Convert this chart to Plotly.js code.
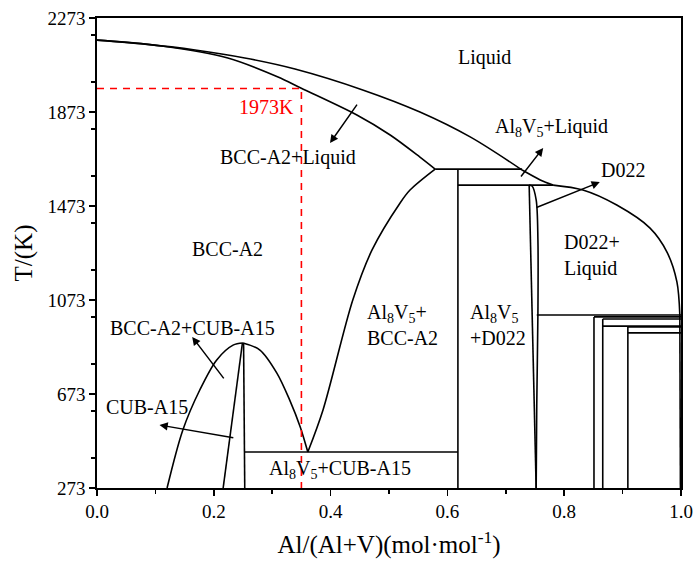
<!DOCTYPE html>
<html>
<head>
<meta charset="utf-8">
<script src="https://cdn.plot.ly/plotly-3.0.1.min.js"></script>
<style>html,body{margin:0;padding:0;background:#fff;}</style>
</head>
<body>
<div id="chart" style="width:695px;height:567px;"></div>
<script>
// ---- Data (x = Al/(Al+V) mole fraction, T in K) ----
const bccLiquidusX = [0, 0.082, 0.168, 0.253, 0.339, 0.455, 0.553, 0.639, 0.728];
const bccLiquidusT = [2179, 2162, 2137, 2103, 2056, 1967, 1873, 1767, 1626];
const al8v5LiquidusX = [0.728, 0.759, 0.781];
const al8v5LiquidusT = [1626, 1584, 1562];
const d022LiquidusX = [0.781, 0.832, 0.890, 0.947, 0.976, 0.993, 0.998];
const d022LiquidusT = [1562, 1541, 1477, 1379, 1277, 1150, 1009];
const alEdgeX = [0.998, 0.999];
const alEdgeT = [1009, 273];
const bccSolidusX = [0, 0.111, 0.224, 0.310, 0.349, 0.445, 0.502, 0.553, 0.579];
const bccSolidusT = [2179, 2154, 2103, 2022, 1975, 1860, 1775, 1681, 1630];
const bccAl8V5X = [0.361, 0.387, 0.438, 0.471, 0.519, 0.536, 0.579];
const bccAl8V5T = [426, 605, 1073, 1286, 1486, 1541, 1630];
const al8v5PeriX = [0.579, 0.728];
const al8v5PeriT = [1630, 1630];
const al8v5LineX = [0.618, 0.618];
const al8v5LineT = [1630, 273];
const d022PeriX = [0.618, 0.781];
const d022PeriT = [1562, 1562];
const d022LeftX = [0.740, 0.752];
const d022LeftT = [1562, 273];
const d022RightX = [0.740, 0.745, 0.752, 0.755, 0.755, 0.753, 0.752];
const d022RightT = [1562, 1558, 1499, 1328, 1017, 622, 273];
const domeLeftX = [0.120, 0.147, 0.176, 0.205, 0.233, 0.250];
const domeLeftT = [273, 520, 690, 818, 881, 890];
const domeRightX = [0.250, 0.279, 0.308, 0.330, 0.348, 0.361];
const domeRightT = [890, 860, 762, 647, 533, 426];
const a15LeftX = [0.249, 0.216];
const a15LeftT = [890, 273];
const a15RightX = [0.251, 0.253];
const a15RightT = [890, 273];
const eutectoidX = [0.253, 0.618];
const eutectoidT = [426, 426];
// Al-rich side horizontals and verticals
const hLinesX0 = [0.753, 0.851, 0.866, 0.866, 0.909, 0.909];
const hLinesT = [1009, 1001, 992, 962, 958, 933];
const vLinesX = [0.851, 0.866, 0.909];
const vLinesTop = [1001, 992, 958];
// 1973 K reference
const refX = [0, 0.35, 0.35];
const refT = [1973, 1973, 273];

// Labels
const labelText = ['Liquid', 'BCC-A2+Liquid', 'Al<sub>8</sub>V<sub>5</sub>+Liquid', 'D022', 'BCC-A2',
  'BCC-A2+CUB-A15', 'CUB-A15', 'Al<sub>8</sub>V<sub>5</sub>+CUB-A15'];
const labelX = [0.664, 0.327, 0.779, 0.901, 0.223, 0.164, 0.086, 0.416];
const labelT = [2107, 1681, 1805, 1626, 1290, 954, 618, 350];
const blockText = ['D022+<br>Liquid', 'Al<sub>8</sub>V<sub>5</sub>+<br>BCC-A2', 'Al<sub>8</sub>V<sub>5</sub><br>+D022'];
const blockX = [0.796, 0.459, 0.635];
const blockT = [1264, 967, 967];
// Arrows: tail -> head
const arrowTailX = [0.447, 0.724, 0.750, 0.219, 0.236];
const arrowTailT = [1911, 1592, 1464, 733, 486];
const arrowHeadX = [0.399, 0.764, 0.861, 0.163, 0.107];
const arrowHeadT = [1741, 1720, 1575, 916, 541];

const FONT = 'Liberation Serif, Times New Roman, serif';
const traces = [];
function addLine(x, y, spline, color, dash) {
  traces.push({x: x, y: y, mode: 'lines', type: 'scatter', hoverinfo: 'skip',
    line: {color: color || '#000', width: 1.6, shape: spline ? 'spline' : 'linear', smoothing: 0.9, dash: dash || 'solid'}});
}
addLine(bccLiquidusX, bccLiquidusT, true);
addLine(al8v5LiquidusX, al8v5LiquidusT, true);
addLine(d022LiquidusX, d022LiquidusT, true);
addLine(alEdgeX, alEdgeT, false);
addLine(bccSolidusX, bccSolidusT, true);
addLine(bccAl8V5X, bccAl8V5T, true);
addLine(al8v5PeriX, al8v5PeriT, false);
addLine(al8v5LineX, al8v5LineT, false);
addLine(d022PeriX, d022PeriT, false);
addLine(d022LeftX, d022LeftT, false);
addLine(d022RightX, d022RightT, true);
addLine(domeLeftX, domeLeftT, true);
addLine(domeRightX, domeRightT, true);
addLine(a15LeftX, a15LeftT, false);
addLine(a15RightX, a15RightT, false);
addLine(eutectoidX, eutectoidT, false);
for (let i = 0; i < hLinesX0.length; i++) addLine([hLinesX0[i], 1], [hLinesT[i], hLinesT[i]], false);
for (let i = 0; i < vLinesX.length; i++) addLine([vLinesX[i], vLinesX[i]], [vLinesTop[i], 273], false);
addLine(refX, refT, false, '#ff0000', '7px,6px');

const annotations = [];
for (let i = 0; i < labelText.length; i++) {
  annotations.push({x: labelX[i], y: labelT[i], xref: 'x', yref: 'y', text: labelText[i], showarrow: false,
    font: {family: FONT, size: 20, color: '#000'}});
}
for (let i = 0; i < blockText.length; i++) {
  annotations.push({x: blockX[i], y: blockT[i], xref: 'x', yref: 'y', text: blockText[i], showarrow: false,
    xanchor: 'left', align: 'left', font: {family: FONT, size: 20, color: '#000'}});
}
annotations.push({x: 0.291, y: 1894, xref: 'x', yref: 'y', text: '1973K', showarrow: false,
  font: {family: FONT, size: 20, color: '#ff0000'}});
for (let i = 0; i < arrowTailX.length; i++) {
  annotations.push({x: arrowHeadX[i], y: arrowHeadT[i], ax: arrowTailX[i], ay: arrowTailT[i],
    xref: 'x', yref: 'y', axref: 'x', ayref: 'y', text: '', showarrow: true,
    arrowhead: 2, arrowsize: 1.1, arrowwidth: 1.5, arrowcolor: '#000'});
}

const layout = {
  width: 695, height: 567,
  margin: {l: 97, r: 14, t: 18, b: 79},
  paper_bgcolor: '#fff', plot_bgcolor: '#fff',
  showlegend: false,
  font: {family: FONT, size: 19, color: '#000'},
  xaxis: {
    range: [0, 1], tick0: 0, dtick: 0.2, tickformat: '.1f',
    ticks: 'outside', ticklen: 6, tickwidth: 1.5, tickcolor: '#000',
    minor: {ticks: 'outside', dtick: 0.1, ticklen: 4, tickwidth: 1.5, tickcolor: '#000'},
    showline: true, linewidth: 1.6, linecolor: '#000', mirror: true,
    showgrid: false, zeroline: false,
    tickfont: {family: FONT, size: 19},
    title: {text: 'Al/(Al+V)(mol·mol<sup>-1</sup>)', font: {family: FONT, size: 25}, standoff: 14}
  },
  yaxis: {
    range: [273, 2273], tick0: 273, dtick: 400,
    ticks: 'outside', ticklen: 6, tickwidth: 1.5, tickcolor: '#000',
    minor: {ticks: 'outside', dtick: 200, ticklen: 4, tickwidth: 1.5, tickcolor: '#000'},
    showline: true, linewidth: 1.6, linecolor: '#000', mirror: true,
    showgrid: false, zeroline: false,
    tickfont: {family: FONT, size: 19},
    title: {text: 'T/(K)', font: {family: FONT, size: 25}, standoff: 8}
  },
  annotations: annotations
};
Plotly.newPlot('chart', traces, layout, {displayModeBar: false, staticPlot: true});
</script>
</body>
</html>
